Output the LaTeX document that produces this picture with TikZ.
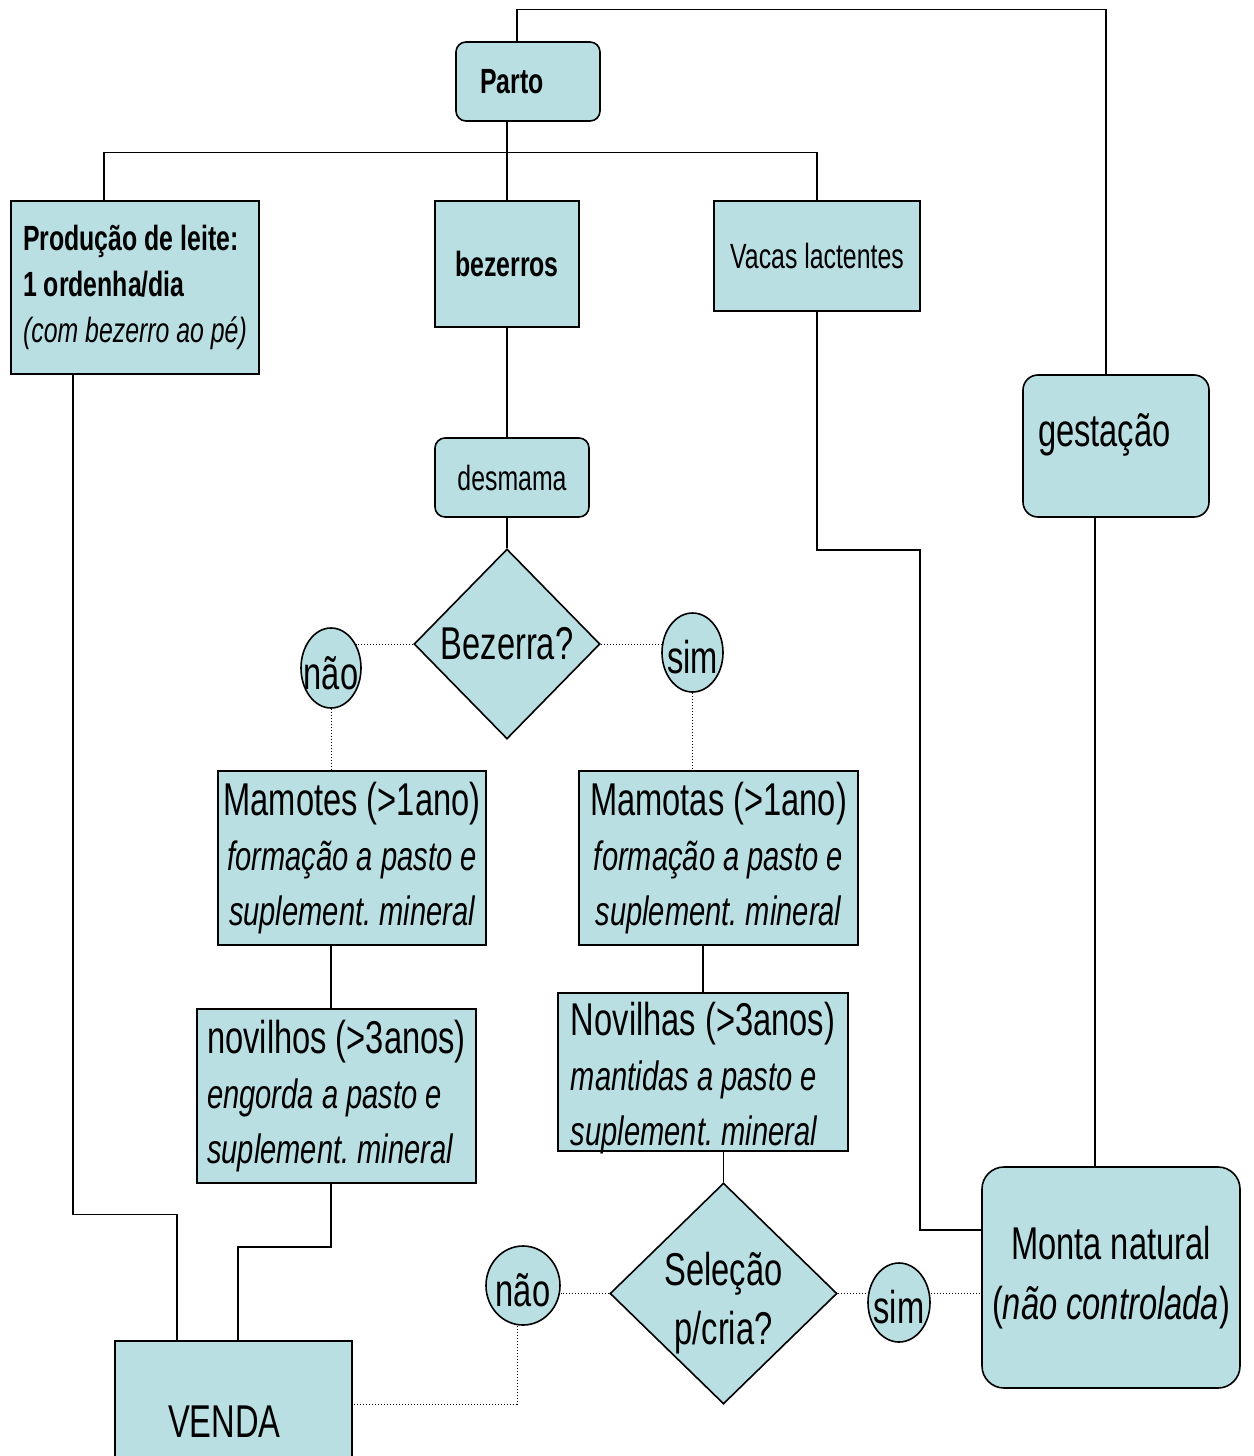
\documentclass[tikz,border=0pt]{standalone}
\usepackage{fontspec}
\setmainfont[FakeStretch=0.71]{Liberation Sans}
\usetikzlibrary{shapes.geometric}
\definecolor{boxfill}{RGB}{186,223,227}
\newcommand\fsmall{\normalfont\fontsize{35}{46}\selectfont}
\newcommand\fbig{\normalfont\fontsize{46}{56}\selectfont}
\newcommand\fital{\normalfont\fontsize{41}{55}\selectfont\itshape}
\frenchspacing

\begin{document}
\begin{tikzpicture}[x=1pt,y=-1pt,
  box/.style={draw,fill=boxfill,line width=1.6pt,inner sep=0pt},
  rbox/.style={box,rounded corners=10pt},
  dec/.style={box,diamond,aspect=1},
  ans/.style={box,ellipse,font=\fbig,text height=42pt,text depth=0pt},
  link/.style={line width=1.4pt},
  opt/.style={line width=1pt,dotted}]
\useasboundingbox (0,0) rectangle (1253,1456);
\clip (0,0) rectangle (1253,1456);
\fill[white] (0,0) rectangle (1253,1456);

% top row
\node[rbox,font=\fsmall\bfseries,minimum height=79pt,text width=96pt,inner xsep=24pt,align=left] (parto) at (528,81.5) {Parto};
\node[box,font=\fsmall,minimum width=248pt,minimum height=173pt,align=left] (producao) at (135,287.5)
  {{\bfseries Produção de leite:}\\{\bfseries 1 ordenha/dia}\\{\itshape (com bezerro ao pé)}};
\node[box,font=\fsmall\bfseries,minimum width=144pt,minimum height=126pt] (bezerros) at (507,264) {bezerros};
\node[box,font=\fsmall,minimum width=206pt,minimum height=110pt] (vacas) at (817,256) {Vacas lactentes};
\node[rbox,font=\fsmall,minimum width=154pt,minimum height=79pt] (desmama) at (512,477.5) {desmama};
\node[rbox,rounded corners=15pt,font=\fbig,text width=156pt,inner xsep=15pt,align=left,
  minimum height=142pt,text height=20pt,text depth=20pt] (gestacao) at (1116,446) {gestação};

% first decision
\node[dec,font=\fbig,minimum width=186pt,minimum height=190pt] (bezerra) at (507,644) {Bezerra?};
\node[ans,minimum width=60pt,minimum height=80pt] (nao1) at (331,668) {\makebox[0pt]{não}};
\node[ans,minimum width=61pt,minimum height=79pt] (sim1) at (692.5,652.5) {\makebox[0pt]{sim}};

\node[box,font=\fital,minimum width=268pt,minimum height=174pt,align=center] (mamotes) at (352,858)
  {{\fbig Mamotes (>1ano)}\\formação a pasto e\\suplement. mineral};
\node[box,font=\fital,minimum width=279pt,minimum height=174pt,align=center] (mamotas) at (718.5,858)
  {{\fbig Mamotas (>1ano)}\\formação a pasto e\\suplement. mineral};
\node[box,font=\fital,minimum width=279pt,minimum height=174pt,align=left] (novilhos) at (336.5,1096)
  {{\fbig novilhos (>3anos)}\\engorda a pasto e\\suplement. mineral};
\node[box,font=\fital,minimum width=290pt,minimum height=158pt,align=left,
  text height=150pt,text depth=3pt] (novilhas) at (703,1072)
  {{\fbig Novilhas (>3anos)}\\mantidas a pasto e\\suplement. mineral};

% second decision
\node[dec,font=\fbig\fontsize{46}{59}\selectfont,align=center,minimum width=227pt,minimum height=221pt,
  text height=101pt,text depth=-10pt] (selecao) at (723.5,1293.5) {Seleção\\p/cria?};
\node[ans,minimum width=74pt,minimum height=79pt] (nao2) at (523,1285.5) {\makebox[0pt]{não}};
\node[ans,minimum width=62pt,minimum height=79pt] (sim2) at (899,1302.5) {\makebox[0pt]{sim}};
\node[rbox,rounded corners=22pt,font=\fbig\fontsize{46}{60}\selectfont,align=center,minimum width=258pt,minimum height=221pt] (monta) at (1111,1277.5)
  {Monta natural\\(\textit{não controlada})};
\node[box,font=\fbig,text width=131pt,inner xsep=53pt,align=left,minimum height=162pt] (venda) at (233.5,1422) {VENDA};

% solid connectors
\draw[link] ([xshift=-11pt]parto.north) -- ++(0,-32) -| ([xshift=-10pt]gestacao.north);
\draw[link] ([xshift=-21pt]parto.south) -- (bezerros.north);
\draw[link] ([xshift=-31pt]producao.north) -- ++(0,-48) -| (vacas.north);
\draw[link] (bezerros.south) -- (bezerros.south |- desmama.north);
\draw[link] (bezerra.north |- desmama.south) -- (bezerra.north);
\draw[link] (vacas.south) -- ++(0,238) -- ++(103,0) |- ([yshift=47.5pt]monta.west);
\draw[link] ([xshift=-21pt]gestacao.south) -- ([xshift=-21pt]gestacao.south |- monta.north);
\draw[link] ([xshift=-62pt]producao.south) |- ([xshift=-56.5pt,yshift=126pt]venda.north) -- ([xshift=-56.5pt]venda.north);
\draw[link] (nao1.south |- mamotes.south) -- (nao1.south |- novilhos.north);
\draw[link] (nao1.south |- novilhos.south) -- ++(0,63) -| ([xshift=4.5pt]venda.north);
\draw[link] (novilhas.north |- mamotas.south) -- (novilhas.north);
\draw[link] (selecao.north |- novilhas.south) -- (selecao.north);

% dotted answers
\draw[opt] (bezerra.west) -- (bezerra.west -| nao1.45);
\draw[opt] (bezerra.east) -- (bezerra.east -| sim1.west);
\draw[opt] (nao1.south) -- (nao1.south |- mamotes.north);
\draw[opt] (sim1.south) -- (sim1.south |- mamotas.north);
\draw[opt] (selecao.west) -- (selecao.west -| nao2.east);
\draw[opt] (selecao.east) -- (selecao.east -| sim2.west);
\draw[opt] (selecao.east -| sim2.east) -- (selecao.east -| monta.west);
\draw[opt] ([xshift=-6pt]nao2.south) |- ([yshift=18pt]venda.east);
\end{tikzpicture}
\end{document}
